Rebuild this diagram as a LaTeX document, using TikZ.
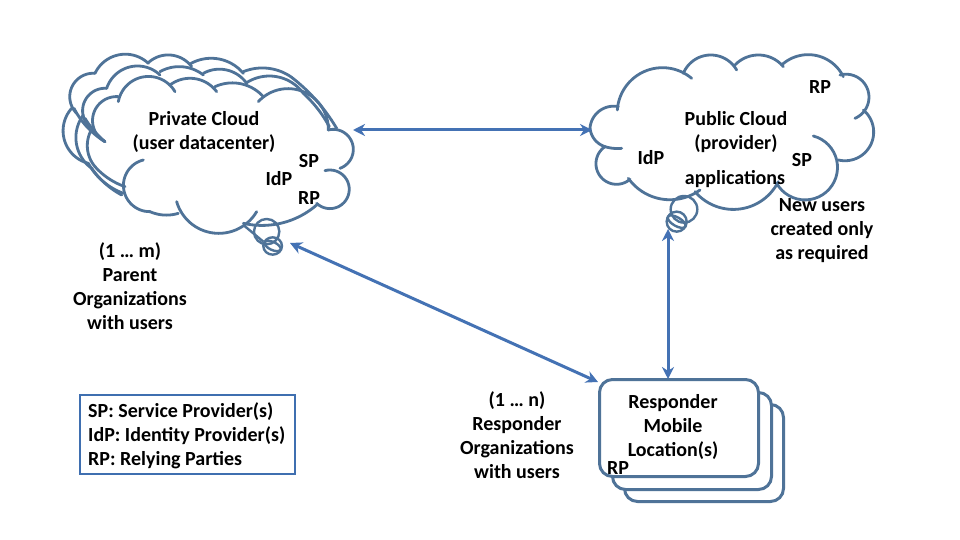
\documentclass[tikz,border=0pt]{standalone}
\usepackage{fontspec}
\setmainfont{Carlito}
\usetikzlibrary{arrows.meta}
\definecolor{cloudblue}{HTML}{4F7398}
\definecolor{arrowblue}{HTML}{4472B4}
\definecolor{boxblue}{HTML}{3F6FB0}
\tikzset{
  lobe/.style={draw=cloudblue,line width=2.8pt,line cap=round},
  blob/.style={draw=cloudblue,line width=2.4pt},
  twoway/.style={draw=arrowblue,line width=3pt,{Stealth[length=12pt,width=12pt]}-{Stealth[length=12pt,width=12pt]}},
  stack/.style={draw=cloudblue,line width=3pt,rounded corners=13pt},
  lbl/.style={font=\fontsize{20}{24}\selectfont\bfseries,align=center,inner sep=0pt,text=black},
  legend/.style={draw=boxblue,line width=2.6pt,minimum width=215pt,minimum height=79pt,inner sep=0pt}
}
% circular arc through three points given in a 3x frame
\newcommand{\lobeat}[6]{%
 \pgfmathsetmacro{\ax}{#1/100}\pgfmathsetmacro{\ay}{#2/100}%
 \pgfmathsetmacro{\bx}{#3/100}\pgfmathsetmacro{\by}{#4/100}%
 \pgfmathsetmacro{\cx}{#5/100}\pgfmathsetmacro{\cy}{#6/100}%
 \pgfmathsetmacro{\dd}{2*(\ax*(\by-\cy)+\bx*(\cy-\ay)+\cx*(\ay-\by))}%
 \pgfmathsetmacro{\ux}{((\ax*\ax+\ay*\ay)*(\by-\cy)+(\bx*\bx+\by*\by)*(\cy-\ay)+(\cx*\cx+\cy*\cy)*(\ay-\by))/\dd}%
 \pgfmathsetmacro{\uy}{((\ax*\ax+\ay*\ay)*(\cx-\bx)+(\bx*\bx+\by*\by)*(\ax-\cx)+(\cx*\cx+\cy*\cy)*(\bx-\ax))/\dd}%
 \pgfmathsetmacro{\rr}{sqrt((\ax-\ux)*(\ax-\ux)+(\ay-\uy)*(\ay-\uy))}%
 \pgfmathsetmacro{\ta}{atan2(\ay-\uy,\ax-\ux)}%
 \pgfmathsetmacro{\tb}{atan2(\by-\uy,\bx-\ux)}%
 \pgfmathsetmacro{\tc}{atan2(\cy-\uy,\cx-\ux)}%
 % unwrap so that the middle angle lies between the ends
 \pgfmathsetmacro{\tb}{\tb<\ta?\tb+360:\tb}%
 \pgfmathsetmacro{\tc}{\tc<\ta?\tc+360:\tc}%
 \pgfmathsetmacro{\tc}{\tb<\tc?\tc:\tc-360}%
 \draw[lobe] plot[domain=\ta:\tc,samples=30,variable=\t] ({100*(\ux+\rr*cos(\t))},{100*(\uy+\rr*sin(\t))});%
}
\begin{document}
\begin{tikzpicture}[x=1pt,y=-1pt]
\useasboundingbox (0,0) rectangle (960,540);
\fill[white] (0,0) rectangle (960,540);
% private cloud, drawn in a 3x frame
\begin{scope}[shift={(50,40)},x=0.3333pt,y=-0.3333pt]
 % outer layer
 \lobeat{135}{100}{200}{46}{295}{70}
 \lobeat{295}{68}{350}{45}{425}{80}
 \lobeat{420}{72}{490}{55}{580}{100}
 \lobeat{580}{95}{655}{85}{725}{112}
 \lobeat{725}{112}{798}{180}{860}{265}
 \lobeat{135}{100}{60}{160}{80}{220}
 \lobeat{72}{205}{115}{265}{165}{305}
 \lobeat{65}{205}{40}{260}{115}{370}
 \lobeat{115}{370}{160}{425}{220}{460}
 % middle layer
 \lobeat{170}{145}{235}{82}{330}{105}
 \lobeat{330}{95}{385}{80}{460}{105}
 \lobeat{460}{100}{530}{90}{590}{130}
 \lobeat{590}{128}{680}{110}{760}{160}
 \lobeat{760}{160}{802}{205}{838}{260}
 \lobeat{170}{145}{100}{195}{120}{262}
 \lobeat{105}{235}{130}{270}{165}{305}
 \lobeat{100}{225}{78}{285}{125}{385}
 \lobeat{125}{385}{165}{430}{215}{465}
 % front layer
 \lobeat{205}{185}{270}{113}{375}{155}
 \lobeat{360}{135}{425}{115}{500}{155}
 \lobeat{495}{140}{565}{130}{640}{170}
 \lobeat{625}{185}{760}{155}{835}{270}
 \lobeat{205}{170}{135}{210}{165}{305}
 \lobeat{130}{260}{112}{320}{135}{380}
 \lobeat{135}{380}{175}{415}{225}{440}
 \lobeat{280}{360}{222}{420}{300}{515}
 \lobeat{300}{515}{340}{525}{385}{520}
 \lobeat{380}{485}{470}{575}{620}{515}
 \lobeat{580}{550}{700}{548}{800}{495}
 \lobeat{800}{490}{895}{430}{825}{392}
 \lobeat{870}{385}{910}{330}{835}{270}
 % thought bubbles
 \draw[blob] (650,575) circle [radius=38];
 \draw[blob] (668,618) circle [x radius=28,y radius=26];
 \draw[blob] (668,618) circle [x radius=26,y radius=12,rotate=-25];
 \draw[blob] (580,555) -- (640,605);
\end{scope}
% public cloud
\begin{scope}[shift={(580,50)},x=0.3333pt,y=-0.3333pt]
 \lobeat{30}{235}{50}{190}{115}{170}
 \lobeat{112}{180}{160}{85}{335}{85}
 \lobeat{310}{70}{390}{15}{470}{60}
 \lobeat{465}{45}{535}{15}{610}{50}
 \lobeat{605}{45}{700}{15}{790}{80}
 \lobeat{780}{75}{865}{125}{825}{205}
 \lobeat{850}{180}{880}{260}{775}{330}
 \lobeat{700}{258}{770}{330}{590}{400}
 \lobeat{595}{395}{470}{478}{345}{425}
 \lobeat{360}{420}{250}{448}{145}{385}
 \lobeat{150}{388}{48}{345}{75}{290}
 \lobeat{75}{290}{100}{295}{125}{295}
 \lobeat{75}{290}{45}{270}{30}{235}
 \draw[blob] (312,478) circle [radius=40];
 \draw[blob] (290,515) circle [radius=30];
 \draw[blob] (290,515) circle [x radius=30,y radius=13,rotate=-30];
\end{scope}
% responder stack
\node[stack,fill=white,minimum width=159pt,minimum height=97pt,inner sep=0pt] (back) at (704,453) {};
\node[stack,fill=white,minimum width=159pt,minimum height=97pt,inner sep=0pt] (mid) at (692,441) {};
\node[stack,fill=white,minimum width=159pt,minimum height=97pt,inner sep=0pt] (front) at (679,428) {};
% labels
\node[lbl] (privlbl) at (204,132) {Private Cloud\\(user datacenter)};
\node[lbl] (idp1) at (279,179) {IdP};
\node[lbl] (sp1) at (309,161) {SP};
\node[lbl] (rp1) at (309,198) {RP};
\node[lbl] (parent) at (130,286) {(1 … m)\\Parent\\Organizations\\with users};
\node[lbl] (publbl) at (736,132) {Public Cloud\\(provider)};
\node[lbl] (applbl) at (735,179) {applications};
\node[lbl] (idp2) at (651,158) {IdP};
\node[lbl] (sp2) at (802,160) {SP};
\node[lbl] (rp2) at (820,87) {RP};
\node[lbl] (newusers) at (822,231) {New users\\created only\\as required};
\node[lbl] (resp) at (517,435) {(1 … n)\\Responder\\Organizations\\with users};
\node[lbl] (mobile) at (673,427) {Responder\\Mobile\\Location(s)};
\node[lbl] (rp3) at (618,468) {RP};
\node[legend] (key) at (187.5,434.5) {};
\node[lbl,align=left,anchor=west] (keytxt) at (88,436) {SP: Service Provider(s)\\IdP: Identity Provider(s)\\RP: Relying Parties};
% connectors
\coordinate (privR) at (353,130);
\coordinate (pubL) at (592,130);
\coordinate (privB) at (290,243);
\coordinate (respTL) at (598,382);
\coordinate (pubB) at (668,229);
\coordinate (respT) at (668,379);
\draw[twoway] (privR) -- (pubL);
\draw[twoway] (privB) -- (respTL);
\draw[twoway] (pubB) -- (respT);
\end{tikzpicture}
\end{document}
